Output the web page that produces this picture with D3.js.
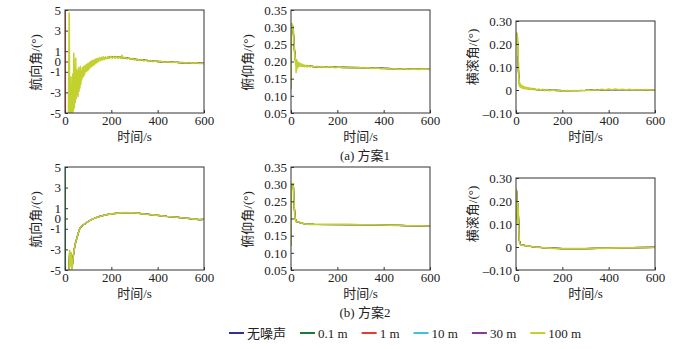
<!DOCTYPE html>
<html>
<head>
<meta charset="utf-8">
<script src="https://cdn.jsdelivr.net/npm/d3@7"></script>
<style>
  body { margin: 0; background: #fff; }
  text { font-family: "Liberation Serif", "Noto Sans CJK SC", serif; fill: #222; }
</style>
</head>
<body>
<div id="chart"></div>
<script>
// 图例系列
const seriesNames = ["无噪声", "0.1 m", "1 m", "10 m", "30 m", "100 m"];
const seriesColors = ["#2e3192", "#1b7a3a", "#e8392e", "#3cc4d4", "#8b3a9c", "#c3d12e"];

// 坐标刻度
const xTicks = [0, 200, 400, 600];
const headingTicks = [-5, -3, -1, 0, 1, 3, 5];
const headingTickLabels = ["-5", "-3", "-1", "0", "1", "3", "5"];
const pitchTicks = [0.05, 0.10, 0.15, 0.20, 0.25, 0.30, 0.35];
const pitchTickLabels = ["0.05", "0.10", "0.15", "0.20", "0.25", "0.30", "0.35"];
const rollTicks = [-0.10, 0, 0.10, 0.20, 0.30];
const rollTickLabels = ["–0.10", "0", "0.10", "0.20", "0.30"];

// (a) 方案1 航向角  [时间, 值]
const headingA_ref = [[0,-5.8],[18,-5.2],[22,-4.0],[30,-3.2],[40,-2.5],[50,-2.0],[60,-1.6],[70,-1.3],[80,-1.0],[90,-0.7],[100,-0.5],[115,-0.25],[130,0.0],[150,0.2],[175,0.35],[200,0.42],[230,0.42],[260,0.35],[290,0.25],[320,0.15],[350,0.1],[380,0.03],[410,-0.02],[450,-0.05],[500,-0.1],[550,-0.14],[600,-0.18]];
const headingA_1m = [[0,0],[0.5,6],[1,-6],[1.5,6],[2,-6],[4,-5.8],[18,-5.2],[22,-4.0],[30,-3.2],[40,-2.5],[50,-2.0],[60,-1.6],[70,-1.3],[80,-1.0],[90,-0.7],[100,-0.5],[115,-0.25],[130,0.0],[150,0.2],[175,0.35],[200,0.42],[230,0.42],[260,0.35],[290,0.25],[320,0.15],[350,0.1],[380,0.03],[410,-0.02],[450,-0.05],[500,-0.1],[550,-0.14],[600,-0.18]];
const headingA_100m = [[0,-5.6],[10,-5.6],[15,-5.5],[18,4.7],[20,-5.5],[22,-4.2],[24,-5.5],[26,-1.5],[28,-5.4],[30,-3.0],[32,-5.3],[34,-1.2],[36,-4.8],[38,0.8],[40,-4.5],[42,-1.8],[44,-4.0],[46,0.3],[48,-3.6],[50,-0.8],[52,-3.2],[54,-1.0],[56,-3.4],[58,-0.6],[60,-2.9],[62,-0.9],[64,-2.6],[66,-0.5],[68,-2.2],[70,-0.9],[72,-1.8],[75,-0.6],[78,-1.5],[81,-0.5],[84,-1.3],[87,-0.4],[90,-1.0],[93,-0.3],[96,-0.9],[99,-0.2],[102,-0.8],[105,-0.1],[108,-0.6],[111,0.0],[114,-0.5],[117,0.1],[120,-0.4],[123,0.1],[126,-0.3],[129,0.2],[132,-0.2],[135,0.25],[138,-0.1],[141,0.3],[145,0.0],[149,0.35],[153,0.1],[157,0.4],[161,0.15],[165,0.45],[170,0.2],[175,0.45],[180,0.25],[186,0.5],[192,0.3],[198,0.5],[204,0.3],[210,0.5],[216,0.3],[222,0.5],[228,0.3],[234,0.45],[240,0.3],[246,0.6],[252,0.3],[260,0.4],[268,0.25],[276,0.35],[284,0.2],[292,0.3],[300,0.15],[310,0.25],[320,0.1],[330,0.2],[340,0.05],[350,0.15],[360,0.0],[370,0.1],[380,-0.02],[390,0.06],[400,-0.05],[415,0.02],[430,-0.08],[445,-0.02],[460,-0.1],[475,-0.05],[490,-0.12],[505,-0.08],[520,-0.15],[535,-0.1],[550,-0.16],[565,-0.13],[580,-0.2],[600,-0.18]];

// (a) 方案1 俯仰角
const pitchA_ref = [[0,0.12],[2,0.3],[9,0.3],[14,0.24],[20,0.2],[30,0.19],[50,0.188],[100,0.185],[200,0.183],[300,0.182],[400,0.18],[500,0.178],[600,0.177]];
const pitchA_100m = [[0,0.12],[1,0.2],[2,0.31],[4,0.295],[5,0.31],[7,0.298],[8,0.305],[10,0.29],[11,0.285],[12,0.265],[13,0.25],[14,0.23],[15,0.24],[16,0.215],[17,0.22],[18,0.2],[19,0.21],[20,0.19],[21,0.205],[22,0.168],[23,0.2],[24,0.175],[25,0.205],[26,0.18],[27,0.2],[28,0.183],[30,0.198],[32,0.185],[34,0.196],[36,0.186],[38,0.195],[40,0.187],[43,0.193],[46,0.186],[49,0.192],[52,0.186],[56,0.19],[60,0.185],[65,0.189],[70,0.184],[76,0.188],[82,0.184],[90,0.187],[100,0.184],[110,0.186],[120,0.183],[135,0.185],[150,0.183],[170,0.185],[190,0.182],[210,0.184],[230,0.182],[250,0.183],[270,0.181],[290,0.183],[310,0.181],[330,0.182],[350,0.18],[370,0.181],[390,0.179],[410,0.18],[430,0.178],[450,0.179],[470,0.177],[490,0.179],[510,0.177],[530,0.178],[550,0.177],[570,0.178],[600,0.177]];

// (a) 方案1 横滚角
const rollA_ref = [[0,0.2],[1,0.25],[6,0.22],[10,0.1],[13,0.03],[20,0.015],[40,0.008],[80,0.003],[120,0.0],[200,-0.003],[300,-0.002],[400,0.002],[500,0.001],[600,0.0]];
const rollA_100m = [[0,0.2],[1,0.25],[2,0.23],[3,0.248],[4,0.22],[5,0.245],[6,0.2],[7,0.23],[8,0.15],[9,0.2],[10,0.08],[11,0.12],[12,0.03],[13,0.05],[15,0.015],[17,0.03],[19,0.012],[21,0.022],[23,0.01],[25,0.02],[28,0.008],[31,0.016],[34,0.006],[37,0.014],[40,0.005],[44,0.012],[48,0.004],[52,0.01],[56,0.003],[60,0.009],[65,0.002],[70,0.007],[76,0.001],[82,0.006],[90,0.0],[98,0.004],[106,-0.001],[115,0.003],[125,-0.002],[135,0.002],[145,-0.003],[160,0.0],[175,-0.004],[190,-0.001],[205,-0.005],[220,-0.002],[235,-0.005],[250,-0.002],[265,-0.004],[280,-0.001],[295,-0.003],[310,0.0],[325,-0.002],[340,0.001],[355,-0.001],[370,0.003],[385,0.0],[400,0.004],[415,0.001],[430,0.004],[445,0.001],[460,0.003],[475,0.0],[490,0.003],[505,0.0],[520,0.002],[540,0.0],[560,0.002],[580,0.0],[600,0.001]];

// (b) 方案2 航向角
const headingB_ref = [[0,-5.8],[14,-5.8],[17,-5.2],[20,-3.3],[23,-4.5],[26,-3.4],[29,-4.8],[32,-4.5],[35,-3.8],[40,-3.0],[45,-2.4],[50,-2.0],[55,-1.6],[60,-1.2],[65,-0.9],[72,-0.75],[80,-0.6],[90,-0.45],[100,-0.3],[115,-0.1],[130,0.05],[150,0.2],[175,0.35],[200,0.45],[230,0.52],[260,0.57],[290,0.56],[320,0.5],[350,0.42],[380,0.35],[410,0.28],[440,0.2],[470,0.14],[500,0.08],[530,0.02],[560,-0.06],[580,-0.1],[600,-0.08]];
const headingB_01m = [[0,6],[0.5,-6],[1,6],[2,-5.8],[14,-5.8],[17,-5.2],[20,-3.3],[23,-4.5],[26,-3.4],[29,-4.8],[32,-4.5],[35,-3.8],[40,-3.0],[45,-2.4],[50,-2.0],[55,-1.6],[60,-1.2],[65,-0.9],[72,-0.75],[80,-0.6],[90,-0.45],[100,-0.3],[115,-0.1],[130,0.05],[150,0.2],[175,0.35],[200,0.45],[230,0.52],[260,0.57],[290,0.56],[320,0.5],[350,0.42],[380,0.35],[410,0.28],[440,0.2],[470,0.14],[500,0.08],[530,0.02],[560,-0.06],[580,-0.1],[600,-0.08]];
const headingB_100m = [[0,-5.8],[14,-5.8],[17,-5.2],[20,-3.1],[23,-4.6],[26,-3.3],[29,-5.0],[32,-4.6],[35,-3.8],[40,-3.0],[45,-2.4],[50,-2.0],[55,-1.6],[60,-1.2],[65,-0.9],[72,-0.75],[80,-0.6],[90,-0.45],[100,-0.3],[115,-0.1],[130,0.05],[150,0.2],[175,0.35],[200,0.45],[230,0.52],[260,0.57],[290,0.56],[320,0.5],[350,0.42],[380,0.35],[410,0.28],[440,0.2],[470,0.14],[500,0.08],[530,0.02],[560,-0.06],[580,-0.1],[600,-0.08]];

// (b) 方案2 俯仰角
const pitchB_ref = [[0,0.12],[2,0.3],[10,0.3],[14,0.235],[18,0.2],[25,0.19],[40,0.188],[60,0.184],[100,0.183],[300,0.182],[400,0.181],[500,0.179],[600,0.178]];
const pitchB_100m = [[0,0.12],[1,0.2],[2,0.3],[4,0.295],[6,0.302],[8,0.298],[10,0.3],[12,0.27],[14,0.235],[16,0.21],[18,0.2],[20,0.192],[23,0.19],[26,0.192],[30,0.19],[35,0.19],[40,0.188],[50,0.186],[60,0.184],[80,0.183],[100,0.183],[150,0.183],[200,0.183],[250,0.183],[300,0.182],[350,0.182],[400,0.181],[450,0.18],[500,0.179],[550,0.179],[600,0.178]];

// (b) 方案2 横滚角
const rollB_ref = [[0,0.2],[1,0.25],[3,0.24],[5,0.12],[7,0.19],[10,0.15],[14,0.03],[20,0.01],[45,0.005],[80,0.0],[130,-0.004],[200,-0.007],[300,-0.007],[400,-0.005],[500,-0.003],[600,-0.002]];
const rollB_100m = [[0,0.2],[1,0.25],[3,0.24],[4,0.15],[5,0.1],[6,0.19],[8,0.19],[10,0.15],[12,0.08],[14,0.03],[16,0.015],[20,0.01],[30,0.007],[45,0.005],[60,0.003],[80,0.0],[100,-0.002],[130,-0.004],[160,-0.006],[200,-0.007],[250,-0.007],[300,-0.007],[350,-0.006],[400,-0.005],[450,-0.004],[500,-0.003],[550,-0.002],[600,-0.002]];

const W = 700, H = 349;
const FONT = '"Liberation Serif", "Noto Sans CJK SC", serif';
const svg = d3.select("#chart").append("svg")
    .attr("width", W).attr("height", H)
    .style("display", "block");

// 子图布局
const colX = [65, 291, 516];
const plotW = 139;
const rows = [
    { top: 10, caption: "(a) 方案1" },
    { top: 167, caption: "(b) 方案2" }
];

const panels = [
    { row: 0, col: 0, label: "航向角/(°)", dom: [-5, 5], ticks: headingTicks, tl: headingTickLabels,
      lines: [headingA_ref, headingA_ref, headingA_1m, headingA_ref, headingA_ref, headingA_100m] },
    { row: 0, col: 1, label: "俯仰角/(°)", dom: [0.05, 0.35], ticks: pitchTicks, tl: pitchTickLabels,
      lines: [pitchA_ref, pitchA_ref, pitchA_ref, pitchA_ref, pitchA_ref, pitchA_100m] },
    { row: 0, col: 2, label: "横滚角/(°)", dom: [-0.10, 0.30], ticks: rollTicks, tl: rollTickLabels,
      lines: [rollA_ref, rollA_ref, rollA_ref, rollA_ref, rollA_ref, rollA_100m] },
    { row: 1, col: 0, label: "航向角/(°)", dom: [-5, 5], ticks: headingTicks, tl: headingTickLabels,
      lines: [headingB_ref, headingB_01m, headingB_ref, headingB_ref, headingB_ref, headingB_100m] },
    { row: 1, col: 1, label: "俯仰角/(°)", dom: [0.05, 0.35], ticks: pitchTicks, tl: pitchTickLabels,
      lines: [pitchB_ref, pitchB_ref, pitchB_ref, pitchB_ref, pitchB_ref, pitchB_100m] },
    { row: 1, col: 2, label: "横滚角/(°)", dom: [-0.10, 0.30], ticks: rollTicks, tl: rollTickLabels,
      lines: [rollB_ref, rollB_ref, rollB_ref, rollB_ref, rollB_ref, rollB_100m] }
];

panels.forEach((p, i) => {
    const x0 = colX[p.col];
    // 横滚角子图框较矮
    const y0 = rows[p.row].top + (p.col === 2 ? 11 : 0);
    const h = p.col === 2 ? 92 : 103;

    const g = svg.append("g").attr("transform", `translate(${x0},${y0})`);

    const x = d3.scaleLinear().domain([0, 600]).range([0, plotW]);
    const y = d3.scaleLinear().domain(p.dom).range([h, 0]);

    g.append("clipPath").attr("id", "clip" + i)
        .append("rect").attr("width", plotW).attr("height", h);

    // 曲线
    const line = d3.line().x(d => x(d[0])).y(d => y(d[1]));
    g.append("g").attr("clip-path", `url(#clip${i})`)
        .selectAll("path")
        .data(p.lines)
        .enter().append("path")
        .attr("d", line)
        .attr("fill", "none")
        .attr("stroke", (d, k) => seriesColors[k])
        .attr("stroke-width", (d, k) => k === 5 ? 1.6 : 1.2)
        .attr("stroke-linejoin", "round");

    // X 轴
    const xa = g.append("g")
        .attr("transform", `translate(0,${h})`)
        .call(d3.axisBottom(x).tickValues(xTicks).tickSize(-3).tickPadding(3));
    xa.attr("font-family", FONT);
    xa.select(".domain").remove();
    xa.selectAll("text").attr("font-size", 13).attr("fill", "#222").style("font-family", FONT);
    xa.selectAll("line").attr("stroke", "#333");

    // Y 轴
    const ya = g.append("g")
        .call(d3.axisLeft(y).tickValues(p.ticks).tickFormat((d, k) => p.tl[k]).tickSize(-3).tickPadding(4));
    ya.attr("font-family", FONT);
    ya.select(".domain").remove();
    ya.selectAll("text").attr("font-size", 13).attr("fill", "#222").style("font-family", FONT);
    ya.selectAll("line").attr("stroke", "#333");

    // 边框
    g.append("rect")
        .attr("width", plotW).attr("height", h)
        .attr("fill", "none").attr("stroke", "#333").attr("stroke-width", 1);

    // 轴标题
    g.append("text")
        .attr("x", plotW / 2)
        .attr("y", h + 28)
        .attr("text-anchor", "middle")
        .attr("font-size", 13)
        .text("时间/s");

    const labelX = p.col === 0 ? -25 : -39;
    const labelY = p.col === 2 ? 36 : h / 2 + 1;
    g.append("text")
        .attr("transform", `translate(${labelX},${labelY}) rotate(-90)`)
        .attr("text-anchor", "middle")
        .attr("font-size", 13)
        .text(p.label);
});

// 子图标题
rows.forEach(r => {
    svg.append("text")
        .attr("x", 365)
        .attr("y", r.top + 150)
        .attr("text-anchor", "middle")
        .attr("font-size", 13)
        .text(r.caption);
});

// 图例
let lx = 229;
const ly = 333;
seriesNames.forEach((name, k) => {
    svg.append("line")
        .attr("x1", lx).attr("x2", lx + 15)
        .attr("y1", ly).attr("y2", ly)
        .attr("stroke", seriesColors[k]).attr("stroke-width", 2);
    const t = svg.append("text")
        .attr("x", lx + 18)
        .attr("y", ly + 4.5)
        .attr("font-size", 13)
        .text(name);
    lx += 18 + t.node().getComputedTextLength() + 14;
});
</script>
</body>
</html>
